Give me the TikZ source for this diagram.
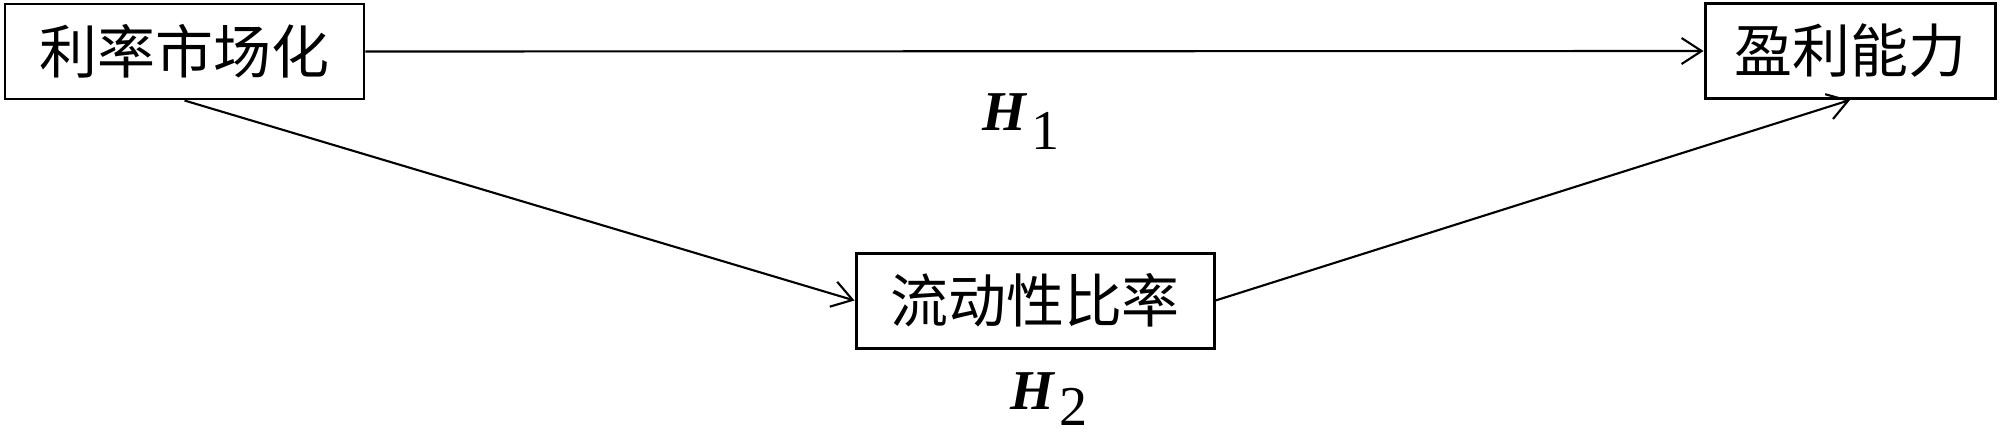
\documentclass[tikz,border=0pt]{standalone}
\usepackage{fontspec}
\setmainfont{Liberation Serif}
\newfontfamily\tnr{Liberation Serif}
\newfontfamily\cjk{Noto Sans CJK SC}
\usetikzlibrary{arrows.meta}
\begin{document}
\begin{tikzpicture}[
  box/.style={draw, line width=0.85pt, minimum height=0.95cm, inner sep=0pt, font=\cjk\fontsize{16.5pt}{18pt}\selectfont},
  conn/.style={line width=0.6pt, -{Straight Barb[length=2mm,width=2.6mm,line width=0.6pt]}},
  hyp/.style={anchor=base west, inner sep=0pt, font=\tnr\fontsize{16pt}{18pt}\selectfont}
]
\useasboundingbox (0,0) rectangle (20,4.35);
\node[box, minimum width=3.59cm] (a) at (1.845,3.835) {利率市场化};
\node[box, minimum width=2.90cm] (b) at (18.50,3.84) {盈利能力};
\node[box, minimum width=3.58cm] (c) at (10.35,1.345) {流动性比率};
\draw[conn] (a.east) -- (b.west);
\draw[conn] (a.south) -- (c.west);
\draw[conn] (c.east) -- (b.south);
\node[hyp] (h1) at (9.82,3.05) {{\bfseries\itshape H}\kern1.5pt\raisebox{-0.19cm}{1}};
\node[hyp] (h2) at (10.10,0.26) {{\bfseries\itshape H}\kern1.5pt\raisebox{-0.16cm}{2}};
\end{tikzpicture}
\end{document}
